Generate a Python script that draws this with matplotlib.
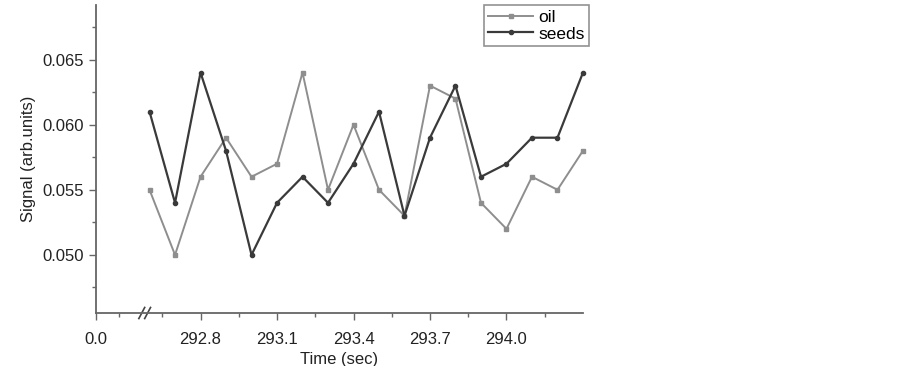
import matplotlib.pyplot as plt

# Data
time = [292.6, 292.7, 292.8, 292.9, 293.0, 293.1, 293.2, 293.3, 293.4,
        293.5, 293.6, 293.7, 293.8, 293.9, 294.0, 294.1, 294.2, 294.3]
oil = [0.055, 0.050, 0.056, 0.059, 0.056, 0.057, 0.064, 0.055, 0.060,
       0.055, 0.053, 0.063, 0.062, 0.054, 0.052, 0.056, 0.055, 0.058]
seeds = [0.061, 0.054, 0.064, 0.058, 0.050, 0.054, 0.056, 0.054, 0.057,
         0.061, 0.053, 0.059, 0.063, 0.056, 0.057, 0.059, 0.059, 0.064]

xtick_pos = [292.39, 292.8, 293.1, 293.4, 293.7, 294.0]
xtick_labels = ['0.0', '292.8', '293.1', '293.4', '293.7', '294.0']
xminor = [292.48, 292.65, 292.95, 293.25, 293.55, 293.85, 294.15]
yticks = [0.050, 0.055, 0.060, 0.065]
yminor = [0.0475, 0.0525, 0.0575, 0.0625, 0.0675]

plt.rcParams['font.family'] = 'Liberation Sans'
plt.rcParams['font.size'] = 12

fig = plt.figure(figsize=(9.03, 3.66), dpi=100)
ax = fig.add_axes([0.1063, 0.1448, 0.5393, 0.8412])

ax.plot(time, oil, color='#8e8e8e', lw=1.4, marker='s', ms=2.6, label='oil', clip_on=False)
ax.plot(time, seeds, color='#3a3a3a', lw=1.6, marker='o', ms=3.0, label='seeds', clip_on=False)

ax.set_xlim(292.39, 294.3)
ax.set_ylim(0.04554, 0.06918)

ax.set_xticks(xtick_pos)
ax.set_xticklabels(xtick_labels)
ax.set_xticks(xminor, minor=True)
ax.set_yticks(yticks)
ax.set_yticklabels(['%.3f' % v for v in yticks])
ax.set_yticks(yminor, minor=True)

for s in ['top', 'right']:
    ax.spines[s].set_visible(False)
for s in ['left', 'bottom']:
    ax.spines[s].set_color('#666666')
    ax.spines[s].set_linewidth(1.3)

ax.tick_params(which='major', direction='out', length=5, width=1, color='#666666',
               labelcolor='#222222', labelsize=12)
ax.tick_params(axis='x', which='major', pad=9)
ax.tick_params(which='minor', direction='out', length=3, width=1, color='#666666')

# axis break marks
for dx in [0.0, 0.012]:
    ax.plot([0.088 + dx, 0.1 + dx], [-0.018, 0.018], color='#444444', lw=1.2,
            transform=ax.transAxes, clip_on=False)

ax.set_xlabel('Time (sec)', color='#222222', fontsize=12, labelpad=3)
ax.set_ylabel('Signal (arb.units)', color='#222222', fontsize=12, labelpad=5)

leg = ax.legend(loc='upper right', bbox_to_anchor=(1.013, 1.0), fontsize=12.5,
                frameon=True, fancybox=False, handlelength=2.6, handletextpad=0.3,
                borderpad=0.25, labelspacing=0.1, borderaxespad=0.0)
leg.get_frame().set_edgecolor('#777777')
leg.get_frame().set_linewidth(1.2)

fig.savefig('out.png', dpi=100)
